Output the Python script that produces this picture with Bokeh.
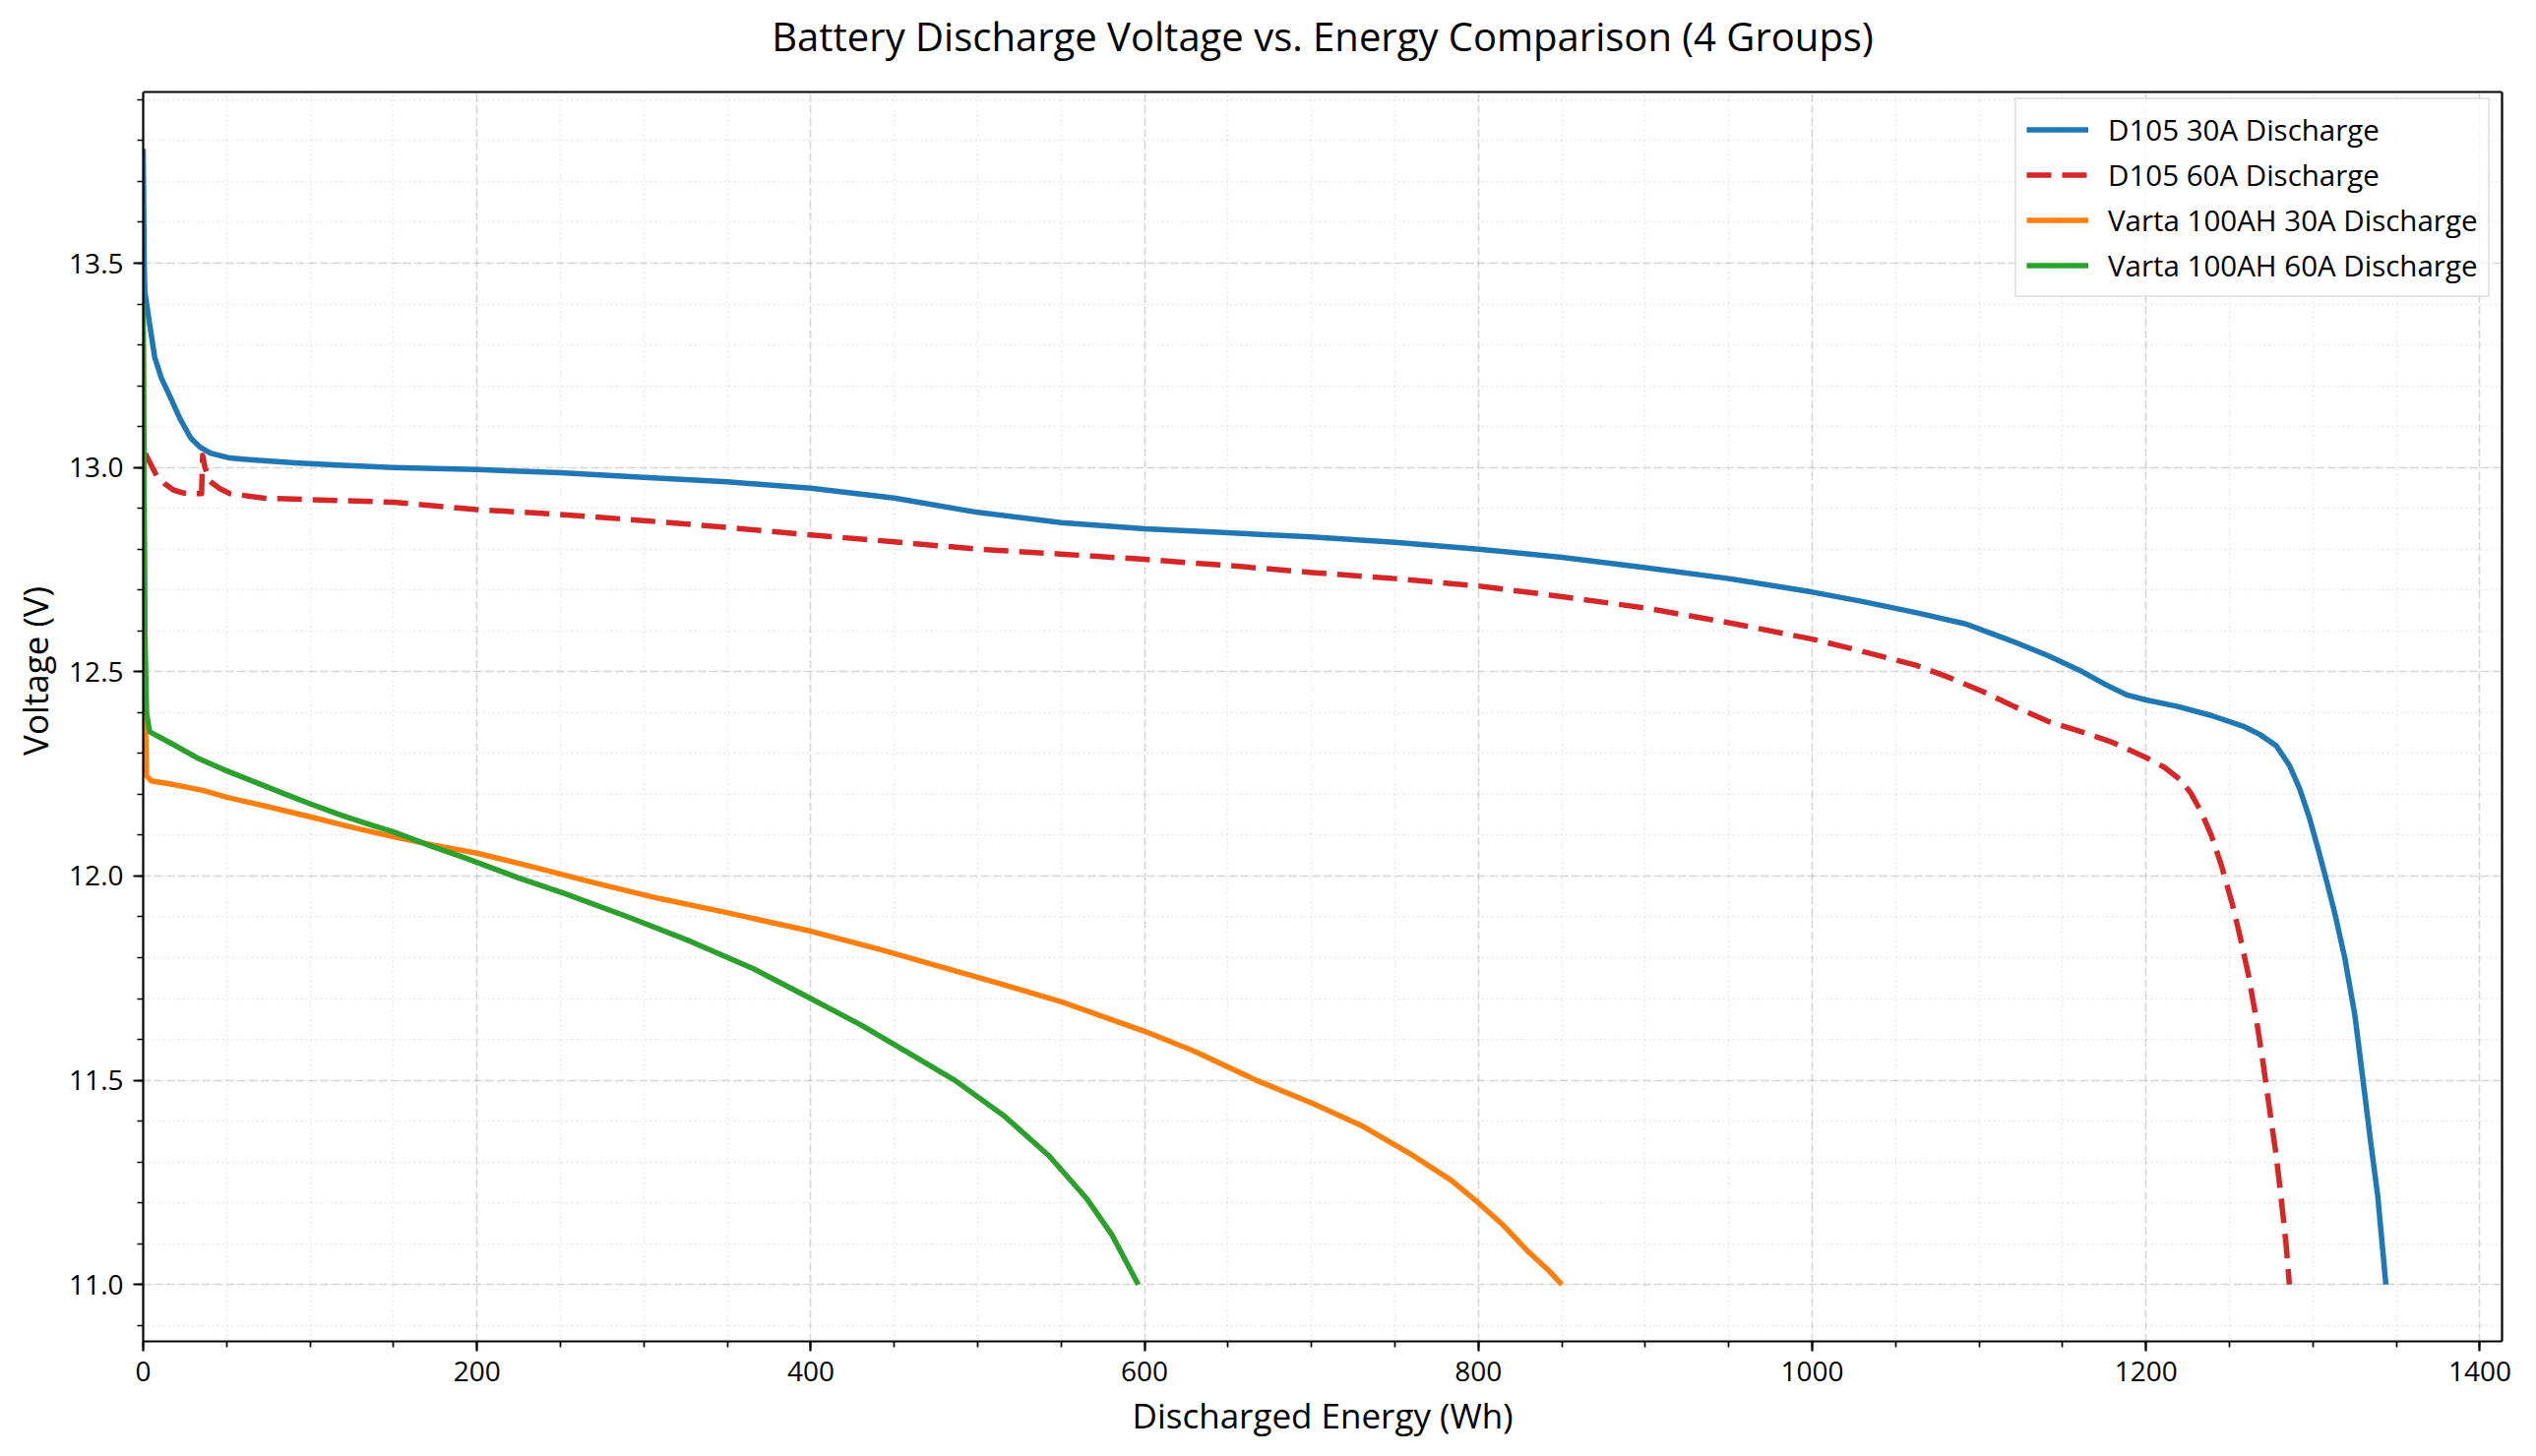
from bokeh.plotting import figure
from bokeh.models import (SingleIntervalTicker, FixedTicker, PrintfTickFormatter, Range1d,
                          ColumnDataSource, Label, BoxAnnotation, Span, LinearAxis)
from bokeh.embed import file_html
from bokeh.resources import INLINE

# ---------------- data ----------------
title_text = "Battery Discharge Voltage vs. Energy Comparison (4 Groups)"
x_label = "Discharged Energy (Wh)"
y_label = "Voltage (V)"
series_names = ["D105 30A Discharge", "D105 60A Discharge",
                "Varta 100AH 30A Discharge", "Varta 100AH 60A Discharge"]

d105_30a_energy = [0, 0.6, 1.0, 3.9, 6.9, 10.8, 16.7, 22, 28.5, 34, 40.3, 52, 70, 91, 120, 150,
                   200, 250, 300, 350, 400, 450, 500, 550, 600, 650, 700, 750, 800, 850, 900,
                   950, 1000, 1030, 1062, 1092, 1121, 1141, 1160, 1176, 1188, 1200, 1219, 1239,
                   1258, 1268, 1278, 1286, 1292, 1298, 1303.5, 1309, 1313.3, 1319.2, 1325.1,
                   1330, 1334.9, 1338.8, 1343.7]
d105_30a_voltage = [13.78, 13.5, 13.43, 13.35, 13.27, 13.22, 13.168, 13.12, 13.072, 13.05, 13.035,
                    13.023, 13.017, 13.011, 13.005, 13.0, 12.995, 12.987, 12.976, 12.965, 12.949,
                    12.925, 12.89, 12.865, 12.85, 12.84, 12.83, 12.817, 12.80, 12.78, 12.755,
                    12.728, 12.695, 12.672, 12.645, 12.617, 12.573, 12.54, 12.504, 12.468,
                    12.444, 12.431, 12.415, 12.393, 12.367, 12.347, 12.319, 12.27, 12.214,
                    12.141, 12.06, 11.975, 11.905, 11.797, 11.66, 11.5, 11.339, 11.218, 11.0]

d105_60a_energy = [0, 0.5, 3, 8, 13, 18, 24.5, 35, 35.6, 37, 40, 46, 52, 72, 111, 150, 200, 250,
                   300, 350, 400, 450, 500, 550, 600, 650, 700, 750, 800, 850, 900, 950, 1000,
                   1030, 1062, 1082, 1102, 1121, 1141, 1160, 1180, 1200, 1211, 1221, 1227, 1233,
                   1239, 1245, 1251.6, 1256.5, 1261.4, 1266.3, 1270.2, 1274.1, 1278, 1281,
                   1283.9, 1285.9]
d105_60a_voltage = [13.12, 13.04, 13.02, 12.98, 12.96, 12.945, 12.937, 12.936, 13.03, 13.0, 12.966,
                    12.948, 12.936, 12.925, 12.92, 12.915, 12.897, 12.885, 12.87, 12.853, 12.835,
                    12.818, 12.80, 12.788, 12.775, 12.76, 12.743, 12.728, 12.71, 12.684, 12.656,
                    12.62, 12.58, 12.55, 12.516, 12.486, 12.452, 12.415, 12.379, 12.355, 12.327,
                    12.29, 12.266, 12.234, 12.202, 12.157, 12.101, 12.028, 11.933, 11.849,
                    11.757, 11.644, 11.54, 11.427, 11.315, 11.21, 11.098, 11.0]

varta_30a_energy = [0, 0.6, 1.2, 2.0, 4.9, 16.7, 36.3, 50, 75.5, 100, 124.5, 150, 173.5, 200,
                    233.9, 271.6, 309.2, 346.9, 400, 441, 478.7, 516.4, 550.3, 600, 629.4, 667,
                    700.9, 731, 761.2, 783.8, 800, 815, 830, 842, 850]
varta_30a_voltage = [13.3, 12.8, 12.4, 12.245, 12.233, 12.225, 12.209, 12.193, 12.169, 12.145,
                     12.12, 12.096, 12.076, 12.056, 12.022, 11.982, 11.945, 11.913, 11.865,
                     11.821, 11.777, 11.733, 11.692, 11.62, 11.572, 11.5, 11.443, 11.387, 11.315,
                     11.255, 11.20, 11.145, 11.08, 11.035, 11.0]

varta_60a_energy = [0, 0.6, 1.0, 2.0, 3.9, 16.7, 32.4, 48, 67.6, 85.3, 100, 118.6, 134.3, 150,
                    173.5, 193, 207.5, 224.5, 252.7, 290.4, 328, 365.7, 400, 429.8, 459.9, 486.3,
                    516.4, 542.8, 565.4, 580.4, 596.2]
varta_60a_voltage = [13.4, 12.9, 12.6, 12.40, 12.353, 12.325, 12.289, 12.261, 12.229, 12.2,
                     12.177, 12.149, 12.128, 12.108, 12.072, 12.044, 12.022, 11.996, 11.957,
                     11.90, 11.84, 11.773, 11.70, 11.636, 11.564, 11.50, 11.411, 11.315, 11.21,
                     11.122, 11.0]

x_ticks_interval = 200
y_ticks_interval = 0.5

# ---------------- layout / styling ----------------
FONT = "Open Sans"
colors = ["#1f77b4", "#d62728", "#ff7f0e", "#2ca02c"]
dashes = ["solid", "25 11", "solid", "solid"]

x_lo, x_hi = 0, 1413.3
y_lo, y_hi = 10.861, 13.919
PLOT_H = 1270          # visible plot area height (px)
TOP_SPACE = 93         # header space above the plot area (px), holds the title
PLOT_W = 2397
v_per_px = (y_hi - y_lo) / PLOT_H
y_top_ext = y_hi + TOP_SPACE * v_per_px

p = figure(title=None, frame_width=PLOT_W, frame_height=PLOT_H + TOP_SPACE,
           x_range=Range1d(x_lo, x_hi), y_range=Range1d(y_lo, y_top_ext),
           output_backend="svg", toolbar_location=None,
           min_border_left=145, min_border_right=14, min_border_top=0, min_border_bottom=100,
           background_fill_color="white", border_fill_color="white")
p.outline_line_color = None

p.xaxis.ticker = SingleIntervalTicker(interval=x_ticks_interval, num_minor_ticks=4)
p.yaxis.ticker = SingleIntervalTicker(interval=y_ticks_interval, num_minor_ticks=5)
p.yaxis.formatter = PrintfTickFormatter(format="%.1f")
p.yaxis.bounds = (y_lo, y_hi)

for ax in (p.xaxis, p.yaxis):
    ax.axis_line_width = 2.2
    ax.axis_line_color = "black"
    ax.major_tick_in = 0
    ax.major_tick_out = 10
    ax.major_tick_line_width = 2.2
    ax.major_tick_line_color = "black"
    ax.minor_tick_in = 0
    ax.minor_tick_out = 6
    ax.minor_tick_line_width = 1.7
    ax.minor_tick_line_color = "black"
    ax.major_label_text_font = FONT
    ax.major_label_text_font_size = "28px"
    ax.major_label_text_color = "black"
    ax.major_label_standoff = 10
    ax.axis_label_text_font = FONT
    ax.axis_label_text_font_size = "35px"
    ax.axis_label_text_font_style = "normal"
    ax.axis_label_text_color = "black"

p.xaxis.axis_label = x_label
p.yaxis.axis_label = y_label
p.xaxis.axis_label_standoff = 8
p.yaxis.axis_label_standoff = 8

# right spine
right_spine = LinearAxis(ticker=FixedTicker(ticks=[]), bounds=(y_lo, y_hi),
                         axis_line_width=2.2, axis_line_color="black",
                         major_tick_line_color=None, minor_tick_line_color=None,
                         major_label_text_font_size="0px")
p.add_layout(right_spine, "right")

for g in (p.xgrid, p.ygrid):
    g.grid_line_color = "#b0b0b0"
    g.grid_line_alpha = 0.45
    g.grid_line_dash = "8 4"
    g.grid_line_width = 1.6
    g.minor_grid_line_color = "#b0b0b0"
    g.minor_grid_line_alpha = 0.28
    g.minor_grid_line_dash = "2 3"
    g.minor_grid_line_width = 1.4

all_x = [d105_30a_energy, d105_60a_energy, varta_30a_energy, varta_60a_energy]
all_y = [d105_30a_voltage, d105_60a_voltage, varta_30a_voltage, varta_60a_voltage]

for xs, ys, name, c, d in zip(all_x, all_y, series_names, colors, dashes):
    src = ColumnDataSource(data=dict(x=xs, y=ys))
    p.line("x", "y", source=src, line_color=c, line_width=5.5, line_dash=d,
           line_join="round", legend_label=name)

# header area: white cover above the plot area, top spine and title
p.add_layout(BoxAnnotation(bottom=y_hi, fill_color="white", fill_alpha=1.0,
                           line_color=None, level="annotation"))
p.add_layout(Span(location=y_hi, dimension="width", line_color="black", line_width=2.2))
p.add_layout(Label(x=(x_lo + x_hi) / 2, y=y_hi + 57 * v_per_px, text=title_text,
                   text_align="center", text_baseline="middle", text_font=FONT,
                   text_font_size="40px", text_color="black"))

# legend: anchored by its lower-left corner, in px from the frame's lower-left
lg = p.legend[0]
legend_w = 480
legend_h = 193
lg.location = (PLOT_W - 15 - legend_w, PLOT_H - 16 - legend_h)
lg.margin = 0
lg.padding = 10
lg.spacing = 5
lg.glyph_width = 63
lg.glyph_height = 37
lg.label_height = 37
lg.label_standoff = 20
lg.label_text_font = FONT
lg.label_text_font_size = "29.5px"
lg.label_text_color = "black"
lg.border_line_color = "#cccccc"
lg.border_line_width = 2
lg.background_fill_color = "white"
lg.background_fill_alpha = 0.8

open("out.html", "w").write(file_html(p, INLINE))
